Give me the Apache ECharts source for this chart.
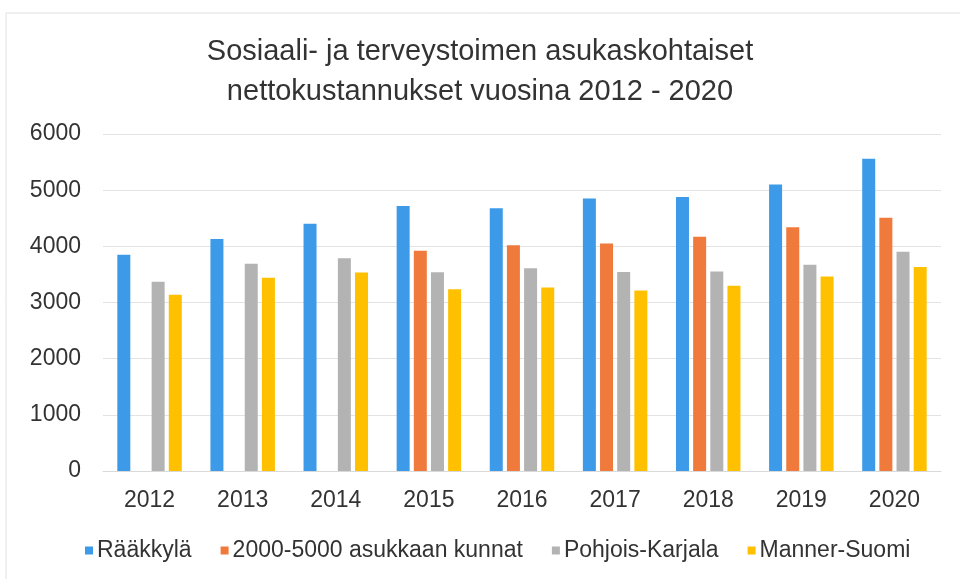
<!DOCTYPE html>
<html>
<head>
<meta charset="utf-8">
<title>Sosiaali- ja terveystoimen nettokustannukset</title>
<script src="https://cdn.jsdelivr.net/npm/echarts@6/dist/echarts.min.js"></script>
<style>
  html, body { margin: 0; padding: 0; background: #fff; }
  #chart { width: 960px; height: 579px; }
</style>
</head>
<body>
<div id="chart"></div>
<script>
// vuodet ja sarjat (euroa / asukas)
var years = ["2012", "2013", "2014", "2015", "2016", "2017", "2018", "2019", "2020"];
var raakkyla = [3850, 4130, 4400, 4720, 4680, 4850, 4880, 5100, 5560];
var kunnat2000_5000 = [null, null, null, 3920, 4020, 4050, 4170, 4340, 4510];
var pohjoisKarjala = [3370, 3690, 3790, 3540, 3610, 3545, 3550, 3670, 3905];
var mannerSuomi = [3140, 3440, 3535, 3235, 3265, 3215, 3300, 3465, 3630];
var yTicks = [0, 1000, 2000, 3000, 4000, 5000, 6000];

var textColor = "#333";
var fontFam = "'Liberation Sans', Arial, sans-serif";

var myChart = echarts.init(document.getElementById("chart"));

function barSeries(name, data, color) {
  return {
    name: name,
    type: "bar",
    data: data,
    barWidth: 13,
    barGap: "32%",
    itemStyle: { color: color },
  };
}

var option = {
  backgroundColor: "#fff",
  textStyle: { fontFamily: fontFam },
  title: {
    text: "Sosiaali- ja terveystoimen asukaskohtaiset\nnettokustannukset vuosina 2012 - 2020",
    left: "center",
    top: 27,
    textStyle: {
      color: textColor,
      fontSize: 29,
      fontWeight: "normal",
      lineHeight: 40,
      fontFamily: fontFam,
    },
  },
  legend: {
    bottom: 12,
    left: 80,
    itemWidth: 8,
    itemHeight: 8,
    itemGap: 29,
    icon: "rect",
    textStyle: { color: textColor, fontSize: 23, fontFamily: fontFam, padding: [0, 0, 0, -1] },
  },
  grid: { left: 103, right: 19, top: 134, bottom: 108 },
  xAxis: {
    type: "category",
    data: years,
    axisLine: { lineStyle: { color: "#d9d9d9" } },
    axisTick: { show: false },
    axisLabel: { color: textColor, fontSize: 23, margin: 18 },
  },
  yAxis: {
    type: "value",
    min: yTicks[0],
    max: yTicks[yTicks.length - 1],
    interval: 1000,
    axisLine: { show: false },
    axisTick: { show: false },
    axisLabel: {
      color: textColor,
      fontSize: 23,
      margin: 22,
      formatter: function (v) { return String(v); },
    },
    splitLine: { lineStyle: { color: "#e3e3e3" } },
  },
  series: [
    barSeries("Rääkkylä", raakkyla, "#3d9ae8"),
    barSeries("2000-5000 asukkaan kunnat", kunnat2000_5000, "#f07a3c"),
    barSeries("Pohjois-Karjala", pohjoisKarjala, "#b3b3b3"),
    barSeries("Manner-Suomi", mannerSuomi, "#ffc000"),
  ],
  graphic: [
    {
      type: "rect",
      shape: { x: 6, y: 13, width: 1000, height: 1000 },
      style: { fill: "none", stroke: "#e0e0e0", lineWidth: 1 },
      silent: true,
    },
  ],
};

myChart.setOption(option);
</script>
</body>
</html>
